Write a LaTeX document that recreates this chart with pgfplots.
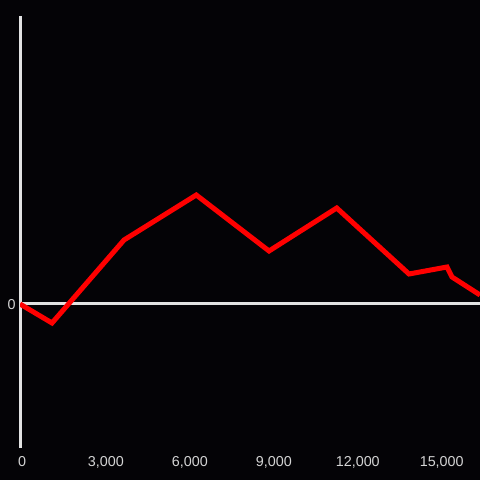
\documentclass[border=0pt]{standalone}
\usepackage{fontspec}
\setmainfont{Liberation Sans}
\usepackage{pgfplots}
\pgfplotsset{compat=1.18}
\definecolor{bg}{HTML}{040306}
\definecolor{axc}{HTML}{E2E2E2}
\definecolor{lbl}{HTML}{D4D4D4}
\definecolor{redline}{HTML}{FF0000}
\begin{document}
\begin{tikzpicture}[x=1bp,y=1bp]
\fill[bg] (0,0) rectangle (480,480);
\path[use as bounding box] (0,0) rectangle (480,480);
\begin{axis}[
  at={(20bp,32bp)}, anchor=south west,
  scale only axis, width=460bp, height=432bp,
  xmin=0, xmax=16440, ymin=-144, ymax=288,
  axis x line*=bottom, axis y line*=left,
  x axis line style={draw=none},
  y axis line style={draw=axc, line width=3bp},
  major tick length=0pt,
  xtick={0,3000,6000,9000,12000,15000},
  ytick={0},
  /pgf/number format/assume math mode=true,
  /pgf/number format/1000 sep={,},
  scaled x ticks=false,
  tick label style={font=\fontsize{14.4}{16}\selectfont, text=lbl},
  xticklabel style={anchor=north, inner sep=0pt, yshift=-8bp, xshift=2bp},
  yticklabel style={anchor=east, inner sep=0pt, xshift=-4.3bp, yshift=-1bp},
  clip=true,
]
\addplot[axc, line width=3bp, forget plot] coordinates {(0,0) (16440,0)};
\addplot[redline, line width=5bp, line join=miter] coordinates {
(0,0) (1144,-19) (3717,64) (6300,109) (8900,53) (11320,96) (13903,30) (15261,37) (15440,27) (16440,9)
};
\end{axis}
\end{tikzpicture}
\end{document}
